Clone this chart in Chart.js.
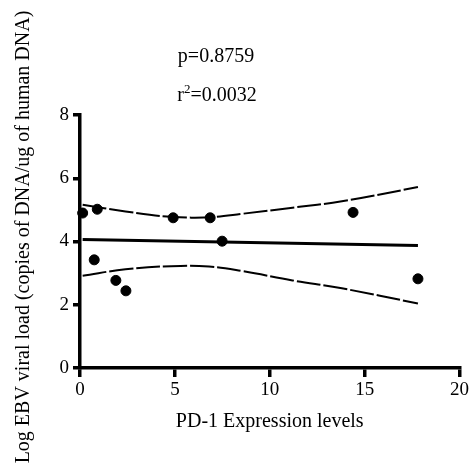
<!DOCTYPE html>
<html>
<head>
<meta charset="utf-8">
<script src="https://cdn.jsdelivr.net/npm/chart.js@4/dist/chart.umd.min.js"></script>
<style>
html,body{margin:0;padding:0;background:#fff;}
#wrap{width:471px;height:470px;}
</style>
</head>
<body>
<div id="wrap"><canvas id="c" width="471" height="470"></canvas></div>
<script>
// Data
const pd1Levels = [0.14, 0.91, 0.75, 1.89, 2.42, 4.91, 6.86, 7.49, 14.39, 17.81];
const ebvLoad   = [4.90, 5.02, 3.42, 2.77, 2.44, 4.75, 4.75, 4.01, 4.92, 2.82];
const fitX = [0.14, 17.81];
const fitY = [4.06, 3.87];
const bandX = [0.14, 2.4, 4.8, 6.8, 8.6, 11.2, 13.8, 17.81];
const bandUpper = [5.16, 4.95, 4.78, 4.77, 4.88, 5.07, 5.27, 5.72];
const bandLower = [2.92, 3.12, 3.22, 3.21, 3.06, 2.77, 2.52, 2.04];
const xTicks = [0, 5, 10, 15, 20];
const yTicks = [0, 2, 4, 6, 8];
const pText = "p=0.8759";
const rText = ["r", "2", "=0.0032"];
const xTitle = "PD-1 Expression levels";
const yTitle = "Log EBV viral load (copies of DNA/ug of human DNA)";

const FONT = "'Liberation Serif', 'Times New Roman', serif";
const zip = (xs, ys) => xs.map((x, i) => ({x: x, y: ys[i]}));

const textPlugin = {
  id: 'texts',
  afterDraw(chart) {
    const ctx = chart.ctx;
    const ca = chart.chartArea;
    ctx.save();
    ctx.fillStyle = '#000';
    ctx.textBaseline = 'alphabetic';
    ctx.font = "20px " + FONT;
    ctx.textAlign = 'center';
    ctx.fillText(pText, 216, 62);
    ctx.textAlign = 'left';
    const w0 = ctx.measureText(rText[0]).width;
    ctx.font = "13px " + FONT;
    const w1 = ctx.measureText(rText[1]).width;
    ctx.font = "20px " + FONT;
    const w2 = ctx.measureText(rText[2]).width;
    let x = 217 - (w0 + w1 + w2) / 2;
    ctx.fillText(rText[0], x, 101); x += w0;
    ctx.font = "13px " + FONT;
    ctx.fillText(rText[1], x, 93); x += w1;
    ctx.font = "20px " + FONT;
    ctx.fillText(rText[2], x, 101);
    ctx.textAlign = 'center';
    ctx.fillText(xTitle, (ca.left + ca.right) / 2, 427);
    ctx.translate(29, 237);
    ctx.rotate(-Math.PI / 2);
    ctx.fillText(yTitle, 0, 0);
    ctx.restore();
  }
};

new Chart(document.getElementById('c'), {
  type: 'scatter',
  data: {
    datasets: [
      {
        label: 'upper',
        type: 'line',
        data: zip(bandX, bandUpper),
        borderColor: '#000',
        borderWidth: 2,
        borderDash: [24, 3],
        pointRadius: 0,
        tension: 0.4,
        fill: false
      },
      {
        label: 'lower',
        type: 'line',
        data: zip(bandX, bandLower),
        borderColor: '#000',
        borderWidth: 2,
        borderDash: [24, 3],
        pointRadius: 0,
        tension: 0.4,
        fill: false
      },
      {
        label: 'fit',
        type: 'line',
        data: zip(fitX, fitY),
        borderColor: '#000',
        borderWidth: 3,
        pointRadius: 0,
        fill: false
      },
      {
        label: 'data',
        data: zip(pd1Levels, ebvLoad),
        backgroundColor: '#000',
        borderColor: '#000',
        pointRadius: 5,
        pointHoverRadius: 5,
        clip: false
      }
    ]
  },
  options: {
    responsive: false,
    animation: false,
    events: [],
    layout: { padding: { top: 115, right: 11, left: 0, bottom: 0 } },
    plugins: {
      legend: { display: false },
      tooltip: { enabled: false },
      title: { display: false }
    },
    scales: {
      x: {
        type: 'linear',
        min: 0, max: 20,
        afterBuildTicks: (s) => { s.ticks = xTicks.map(v => ({value: v})); },
        afterFit: (s) => { s.height = 102; },
        border: { display: true, color: '#000', width: 3.5 },
        grid: { drawOnChartArea: false, drawTicks: true, lineWidth: 3.5, tickLength: 9, tickWidth: 3.5, tickColor: '#000', color: '#000' },
        ticks: { color: '#000', font: { family: FONT, size: 19 }, padding: 2, maxRotation: 0 }
      },
      y: {
        type: 'linear',
        min: 0, max: 8,
        afterBuildTicks: (s) => { s.ticks = yTicks.map(v => ({value: v})); },
        afterFit: (s) => { s.width = 80; },
        border: { display: true, color: '#000', width: 3.5 },
        grid: { drawOnChartArea: false, drawTicks: true, lineWidth: 3.5, tickLength: 7, tickWidth: 3.5, tickColor: '#000', color: '#000' },
        ticks: { color: '#000', font: { family: FONT, size: 19 }, padding: 4 }
      }
    }
  },
  plugins: [textPlugin]
});
</script>
</body>
</html>
